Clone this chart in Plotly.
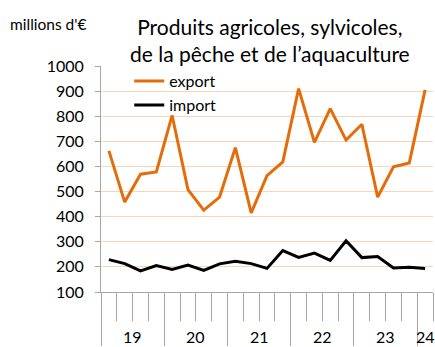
import plotly.graph_objects as go

# Quarterly trade, 2019 Q1 .. 2024 Q1 (millions d'€)
quarters = [f"{y}T{q}" for y in range(19, 24) for q in range(1, 5)] + ["24T1"]
export_vals = [662, 458, 569, 578, 803, 508, 426, 478, 675, 415, 563,
               618, 910, 696, 830, 705, 768, 478, 599, 614, 905]
import_vals = [229, 213, 184, 205, 190, 207, 186, 212, 222, 213, 194,
               265, 238, 255, 226, 304, 237, 241, 196, 199, 194]
year_labels = ["19", "20", "21", "22", "23", "24"]
year_centers = [1.5, 5.5, 9.5, 13.5, 17.5, 20.0]

FONT = "Lato"
AXIS_GREY = "#A6A6A6"
GRID = "#FBD5B5"

xs = list(range(len(quarters)))

fig = go.Figure()
fig.add_trace(go.Scatter(x=xs, y=export_vals, mode="lines", name="export",
                         line=dict(color="#E46C0A", width=3),
                         text=quarters, hoverinfo="text+y"))
fig.add_trace(go.Scatter(x=xs, y=import_vals, mode="lines", name="import",
                         line=dict(color="#000000", width=3),
                         text=quarters, hoverinfo="text+y"))

year_bounds = [-0.5 + 4 * i for i in range(6)]
quarter_bounds = [-0.5 + i for i in range(len(quarters) + 1)]

fig.update_layout(
    width=435, height=347,
    margin=dict(l=101, r=2, t=66, b=53),
    paper_bgcolor="white", plot_bgcolor="white",
    font=dict(family=FONT, color="#000000"),
    showlegend=True,
    legend=dict(x=0.085, y=1.008, xanchor="left", yanchor="top",
                bgcolor="rgba(0,0,0,0)", font=dict(size=16),
                tracegroupgap=0),
    xaxis=dict(range=[-0.5, len(quarters) - 0.5], showgrid=False,
               zeroline=False, showline=True, linecolor=AXIS_GREY,
               linewidth=1, tickmode="array", tickvals=year_bounds,
               ticks="outside", ticklen=53, tickcolor=AXIS_GREY,
               tickwidth=1, showticklabels=False,
               minor=dict(tickmode="array", tickvals=quarter_bounds,
                          ticks="outside", ticklen=28,
                          tickcolor=AXIS_GREY, tickwidth=1,
                          showgrid=False)),
    yaxis=dict(range=[100, 1000], dtick=100, tick0=0, showgrid=True,
               gridcolor=GRID, gridwidth=1, zeroline=False,
               showline=True, linecolor=AXIS_GREY, linewidth=1,
               ticks="outside", ticklen=5, tickcolor=AXIS_GREY,
               ticklabelstandoff=8, tickfont=dict(size=16)),
)

fig.add_annotation(text="Produits agricoles, sylvicoles,<br>de la pêche et de l’aquaculture",
                   xref="paper", yref="paper", x=0.51, y=1.114,
                   xanchor="center", yanchor="middle", showarrow=False,
                   font=dict(size=21))
fig.add_annotation(text="millions d'€", xref="paper", yref="paper",
                   x=-0.28, y=1.184, xanchor="left", yanchor="middle",
                   showarrow=False, font=dict(size=15.5))

for lab, xc in zip(year_labels, year_centers):
    fig.add_annotation(text=lab, xref="x", yref="paper", x=xc, y=-0.197,
                       xanchor="center", yanchor="middle", showarrow=False,
                       font=dict(size=16))

fig.write_html("out.html")
